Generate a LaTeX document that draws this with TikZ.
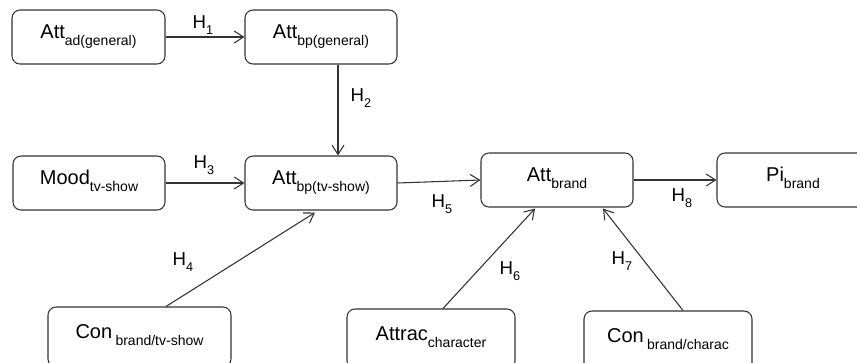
\documentclass[tikz,border=0pt]{standalone}
\usepackage{fontspec}
\setmainfont{Liberation Sans}
\usetikzlibrary{arrows.meta,calc}
\definecolor{linecol}{HTML}{333333}
\newcommand\boxlbl[2]{{\fontsize{15}{18}\selectfont #1}\raisebox{-5pt}{\fontsize{10.5}{12}\selectfont #2}}
\newcommand\hlbl[2]{{\fontsize{14}{16}\selectfont #1}\raisebox{-4pt}{\fontsize{9.5}{11}\selectfont #2}}
\begin{document}
\begin{tikzpicture}[x=0.75pt,y=-0.75pt,
  box/.style={draw=linecol, line width=0.8pt, rounded corners=6pt, inner sep=0pt,
    minimum height=40.5pt, text height=6pt, text depth=4pt},
  lowbox/.style={box, minimum height=45pt},
  conn/.style={draw=linecol, line width=0.8pt, -{Straight Barb[length=7pt,width=9pt,line width=0.8pt]}},
  hyp/.style={inner sep=0pt}]
\useasboundingbox (0,0) rectangle (857,362);
\clip (0,0) rectangle (857,362);
% boxes
\node[box, minimum width=114.75pt] (b1) at (88.5,37) {\boxlbl{Att}{ad(general)}};
\node[box, minimum width=114pt] (b2) at (321,37) {\boxlbl{Att}{bp(general)}};
\node[box, minimum width=114pt] (b3) at (89,183) {\boxlbl{Mood}{tv-show}};
\node[box, minimum width=114pt] (b4) at (321,183) {\boxlbl{Att}{bp(tv-show)}};
\node[box, minimum width=114pt] (br) at (557,180) {\boxlbl{Att}{brand}};
\node[box, minimum width=114pt] (pi) at (793,180) {\boxlbl{Pi}{brand}};
\node[lowbox, minimum width=137.25pt] (c1) at (139.5,337) {\boxlbl{Con\,}{brand/tv-show}};
\node[lowbox, minimum width=126pt] (at) at (431,339) {\boxlbl{Attrac}{character}};
\node[lowbox, minimum width=126pt] (cc) at (668,341) {\boxlbl{Con\,}{brand/charac}};
% connectors
\draw[conn] (b1.east) -- (b2.west);
\draw[conn] ($(b2.south)+(17,0)$) -- ($(b4.north)+(17,0)$);
\draw[conn] (b3.east) -- (b4.west);
\draw[conn] ($(c1.north)+(26.5,0)$) -- ($(b4.south)+(-6,2)$);
\draw[conn] (b4.east) -- (br.west);
\draw[conn] ($(at.north)+(12,0)$) -- ($(br.south)+(-22,1)$);
\draw[conn] ($(cc.north)+(15,0)$) -- ($(br.south)+(46,1)$);
\draw[conn] (br.east) -- (pi.west);
% labels
\node[hyp] (h1) at (203,25) {\hlbl{H}{1}};
\node[hyp] (h2) at (361,98) {\hlbl{H}{2}};
\node[hyp] (h3) at (204,165) {\hlbl{H}{3}};
\node[hyp] (h4) at (183,262) {\hlbl{H}{4}};
\node[hyp] (h5) at (442,204) {\hlbl{H}{5}};
\node[hyp] (h6) at (510,271) {\hlbl{H}{6}};
\node[hyp] (h7) at (622,261) {\hlbl{H}{7}};
\node[hyp] (h8) at (682,198) {\hlbl{H}{8}};
\end{tikzpicture}
\end{document}
